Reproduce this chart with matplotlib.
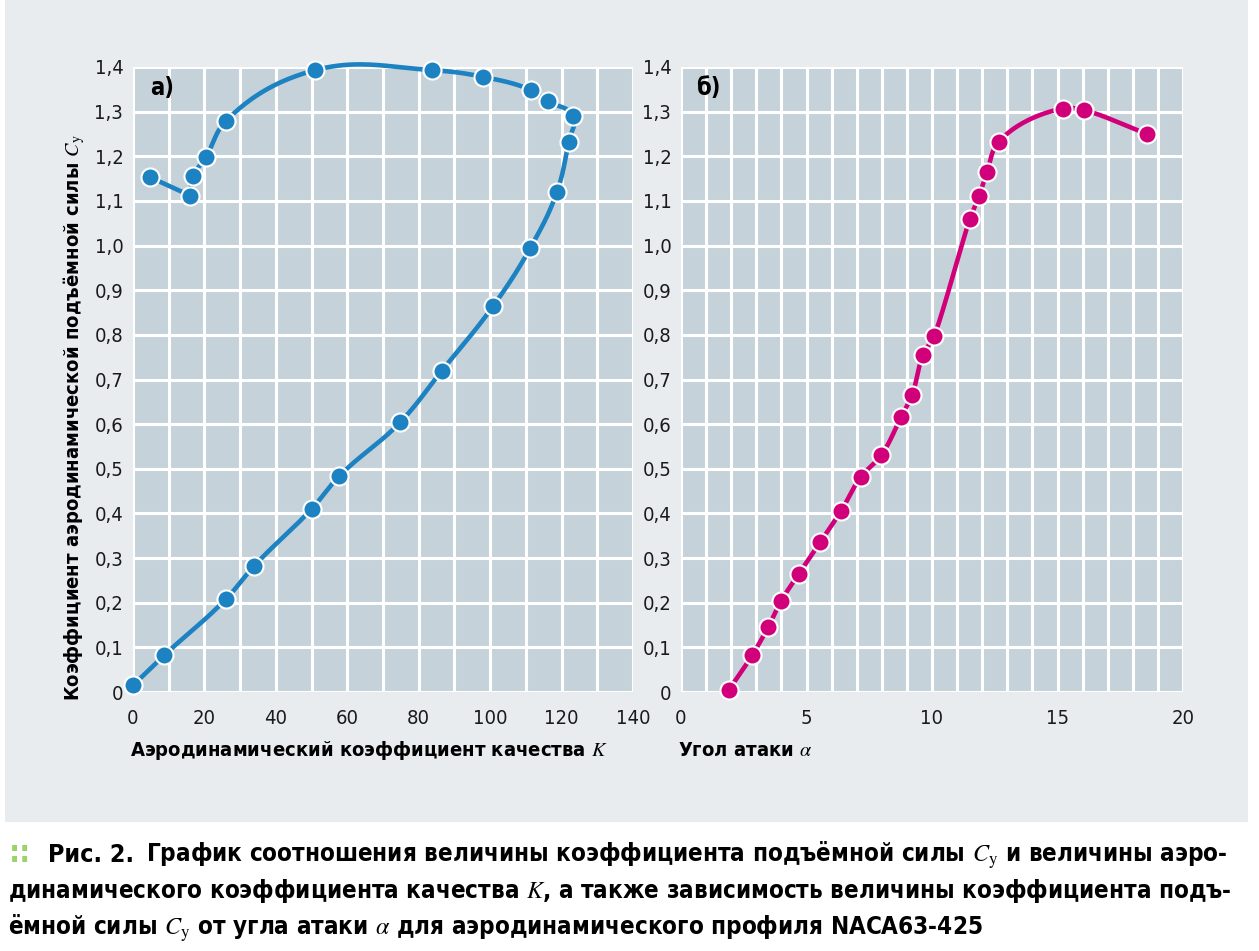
import numpy as np
import matplotlib
matplotlib.use("Agg")
import matplotlib.pyplot as plt
from matplotlib.patches import Rectangle

# data
K_vals = [0, 8.7, 26, 34, 50, 57.7, 74.8, 86.5, 100.8, 111.2, 118.7, 122, 123.2,
          116.2, 111.5, 98, 83.7, 51, 26, 20.4, 16.8, 16, 4.8]
Cy_a = [0.015, 0.082, 0.208, 0.283, 0.41, 0.483, 0.604, 0.72, 0.864, 0.994, 1.12,
        1.233, 1.29, 1.323, 1.348, 1.378, 1.393, 1.393, 1.279, 1.198, 1.155, 1.112, 1.153]
alpha_vals = [1.91, 2.83, 3.47, 3.98, 4.7, 5.54, 6.37, 7.17, 7.97, 8.76, 9.2, 9.64,
              10.08, 11.51, 11.87, 12.19, 12.67, 15.2, 16.06, 18.57]
Cy_b = [0.005, 0.082, 0.145, 0.203, 0.265, 0.335, 0.405, 0.482, 0.53, 0.615, 0.665,
        0.754, 0.797, 1.06, 1.11, 1.165, 1.233, 1.307, 1.303, 1.25]
y_ticks = [0, 0.1, 0.2, 0.3, 0.4, 0.5, 0.6, 0.7, 0.8, 0.9, 1.0, 1.1, 1.2, 1.3, 1.4]
y_ticklabels = ["0", "0,1", "0,2", "0,3", "0,4", "0,5", "0,6", "0,7", "0,8", "0,9",
                "1,0", "1,1", "1,2", "1,3", "1,4"]

BLUE = "#1d82c1"
MAGENTA = "#d1007a"
PANEL = "#e8ecef"
AXBG = "#c6d2d9"
FONT = dict(family="DejaVu Sans", fontstretch="condensed")

plt.rcParams["mathtext.fontset"] = "stix"
plt.rcParams["font.family"] = ["DejaVu Sans"]
plt.rcParams["font.stretch"] = "condensed"


def smooth(xs, ys, sx, sy, n=40, k=0.38, cap=2.2):
    # bezier smoothing through the markers (pixel space), handles capped by the neighbour segments
    P = np.column_stack([np.asarray(xs) * sx, np.asarray(ys) * sy])
    d = np.diff(P, axis=0)
    L = np.linalg.norm(d, axis=1)
    u = d / L[:, None]
    T = np.zeros_like(P)
    T[0], T[-1] = u[0], u[-1]
    for i in range(1, len(P) - 1):
        t = u[i - 1] + u[i]
        T[i] = t / np.linalg.norm(t)
    s = np.linspace(0, 1, n)[:, None]
    out = []
    for i in range(len(P) - 1):
        h0 = L[i] if i == 0 else min(L[i], cap * L[i - 1])
        h1 = L[i] if i == len(L) - 1 else min(L[i], cap * L[i + 1])
        b0, b3 = P[i], P[i + 1]
        b1 = b0 + T[i] * h0 * k
        b2 = b3 - T[i + 1] * h1 * k
        out.append((1 - s) ** 3 * b0 + 3 * (1 - s) ** 2 * s * b1 + 3 * (1 - s) * s ** 2 * b2 + s ** 3 * b3)
    c = np.vstack(out)
    return c[:, 0] / sx, c[:, 1] / sy


fig = plt.figure(figsize=(12.59, 9.51), dpi=100)
fig.patch.set_facecolor("white")
fig.patches.append(Rectangle((5 / 1259, 1 - 822 / 951), 1243 / 1259, 822 / 951,
                             transform=fig.transFigure, facecolor=PANEL,
                             edgecolor="none", zorder=-10))

ax1 = fig.add_axes([133 / 1259, 1 - 692 / 951, 500 / 1259, 625 / 951])
ax2 = fig.add_axes([681 / 1259, 1 - 692 / 951, 502 / 1259, 625 / 951])

for ax, xmax, xstep, xt in [(ax1, 140, 10, np.arange(0, 141, 20)),
                            (ax2, 20, 1, np.arange(0, 21, 5))]:
    ax.set_facecolor(AXBG)
    ax.set_xlim(0, xmax)
    ax.set_ylim(0, 1.4)
    for v in np.arange(0, xmax + 0.01, xstep):
        ax.axvline(v, color="white", lw=2.2, zorder=1)
    for v in y_ticks:
        ax.axhline(v, color="white", lw=2.2, zorder=1)
    for s in ax.spines.values():
        s.set_visible(False)
    ax.set_xticks(xt)
    ax.set_xticklabels([str(v) for v in xt])
    ax.set_yticks(y_ticks)
    ax.set_yticklabels(y_ticklabels)
    ax.tick_params(length=0, labelsize=14.5, colors="#1a1a1a")
    ax.tick_params(axis="x", pad=12)
    ax.tick_params(axis="y", pad=7)

# a) smooth up to the corner at K=16, then a straight piece
sx1, sy1 = 500 / 140, 625 / 1.4
xs, ys = smooth(K_vals[:-1], Cy_a[:-1], sx1, sy1)
ax1.plot(xs, ys, color=BLUE, lw=3.3, zorder=3, clip_on=False, solid_capstyle="round")
ax1.plot(K_vals[-2:], Cy_a[-2:], color=BLUE, lw=3.3, zorder=3, solid_capstyle="round")
ax1.plot(K_vals, Cy_a, "o", ms=13, color=BLUE, mec="white", mew=1.5, zorder=4, clip_on=False)
ax1.text(0.035, 0.966, "а)", transform=ax1.transAxes, fontsize=17, fontweight="bold",
         va="center", ha="left", **FONT)

# б)
sx2, sy2 = 502 / 20, 625 / 1.4
xs, ys = smooth(alpha_vals, Cy_b, sx2, sy2)
ax2.plot(xs, ys, color=MAGENTA, lw=3.3, zorder=3, clip_on=False, solid_capstyle="round")
ax2.plot(alpha_vals, Cy_b, "o", ms=13, color=MAGENTA, mec="white", mew=1.5, zorder=4, clip_on=False)
ax2.text(0.03, 0.966, "б)", transform=ax2.transAxes, fontsize=17, fontweight="bold",
         va="center", ha="left", **FONT)

# axis titles
fig.text(130 / 1259, 1 - 750 / 951, r"Аэродинамический коэффициент качества $K$",
         fontsize=14.5, fontweight="bold", va="center", ha="left", **FONT)
fig.text(678 / 1259, 1 - 750 / 951, r"Угол атаки $\alpha$",
         fontsize=14.5, fontweight="bold", va="center", ha="left", **FONT)
fig.text(74 / 1259, 1 - 418 / 951, r"Коэффициент аэродинамической подъёмной силы $C_\mathrm{y}$",
         fontsize=14.5, fontweight="bold", va="center", ha="center", rotation=90, **FONT)

# caption
fig.text(9 / 1259, 1 - 854 / 951, "::", fontsize=22, color="#9bd36b", va="center",
         ha="left", fontweight="bold", family="DejaVu Sans")
fig.text(48 / 1259, 1 - 855 / 951, "Рис. 2.", fontsize=18, fontweight="bold",
         va="center", ha="left", **FONT)
fig.text(146 / 1259, 1 - 855 / 951,
         r"График соотношения величины коэффициента подъёмной силы $C_\mathrm{y}$ и величины аэро-",
         fontsize=17.4, fontweight="semibold", va="center", ha="left", **FONT)
fig.text(8 / 1259, 1 - 891 / 951,
         r"динамического коэффициента качества $K$, а также зависимость величины коэффициента подъ-",
         fontsize=17.4, fontweight="semibold", va="center", ha="left", **FONT)
fig.text(8 / 1259, 1 - 928 / 951,
         r"ёмной силы $C_\mathrm{y}$ от угла атаки $\alpha$ для аэродинамического профиля NACA63-425",
         fontsize=17.4, fontweight="semibold", va="center", ha="left", **FONT)

fig.savefig("out.png", dpi=100, facecolor=fig.get_facecolor())
